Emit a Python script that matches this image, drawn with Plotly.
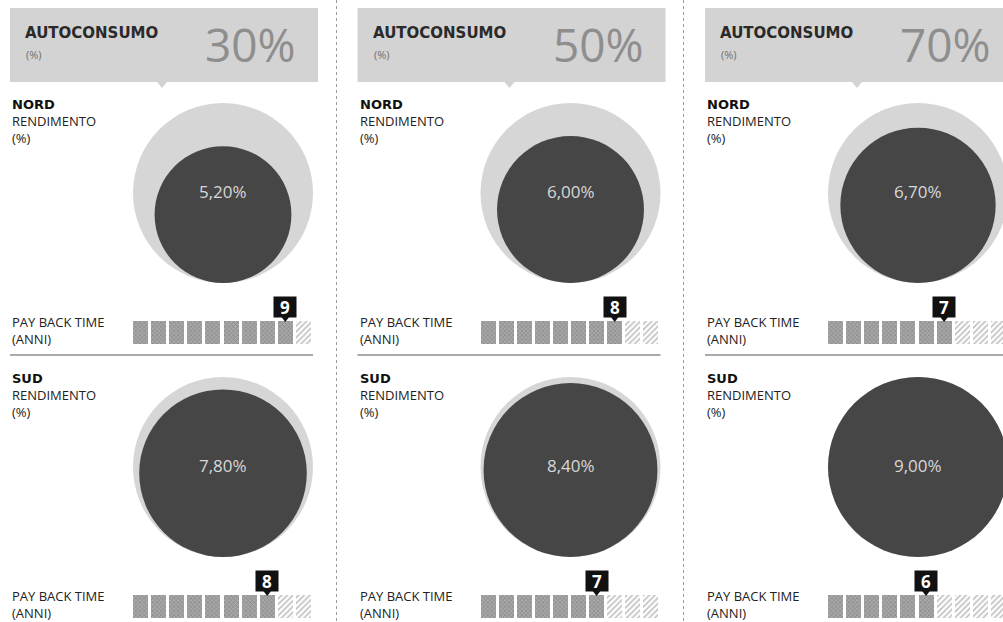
import plotly.graph_objects as go

# ---------------- data ----------------
autoconsumo = [30, 50, 70]                 # % autoconsumo per panel
nord_rendimento = [5.20, 6.00, 6.70]       # %
sud_rendimento = [7.80, 8.40, 9.00]        # %
nord_payback = [9, 8, 7]                   # anni
sud_payback = [8, 7, 6]                    # anni
max_rendimento = 9.00
max_payback = 10
regions = ["NORD", "SUD"]

# ---------------- layout constants ----------------
W, H = 1003, 622
PANEL_DX = 347.5
PANEL_X0 = 10
R_MAX = 90.0
CIRCLE_CX = 223
GROUP_DY = 274
CIRCLE_BOTTOM = 283
BAR_X0 = 133
BAR_PITCH = 18.1
BAR_W = 15
BAR_TOP = 321
BAR_H = 23

FONT = "Open Sans"
BOLD = "DejaVu Sans"
fig = go.Figure()
shapes = []
annotations = []


def fmt(v):
    return f"{v:.2f}".replace(".", ",") + "%"


def label(x, y, text, size=13, color="#222", family=FONT):
    annotations.append(dict(x=x, y=y, text=text, showarrow=False, xanchor="left",
                            yanchor="middle", align="left",
                            font=dict(family=family, size=size, color=color)))


for p in range(3):
    off = p * PANEL_DX
    # header box
    shapes.append(dict(type="rect", xref="x", yref="y", x0=PANEL_X0 + off, x1=PANEL_X0 + off + 308,
                       y0=8, y1=82, fillcolor="#d3d3d3", line=dict(width=0), layer="below"))
    shapes.append(dict(type="path", xref="x", yref="y",
                       path=f"M {157+off},82 L {167+off},82 L {162+off},88 Z",
                       fillcolor="#d3d3d3", line=dict(width=0), layer="below"))
    label(23 + off, 33, "<b>AUTOCONSUMO</b>", size=15, color="#2a2a2a", family=BOLD)
    label(24 + off, 54, "(%)", size=11, color="#707070")
    annotations.append(dict(x=298 + off, y=44, text=f"{autoconsumo[p]}%", showarrow=False,
                            xanchor="right", yanchor="middle",
                            font=dict(family=FONT, size=46, color="#8e8e8e")))

    for g, (rend, pay) in enumerate([(nord_rendimento[p], nord_payback[p]),
                                     (sud_rendimento[p], sud_payback[p])]):
        dy = g * GROUP_DY
        # labels
        label(PANEL_X0 + off, 122 + dy,
              f"<span style='font-family:{BOLD};color:#111'><b>{regions[g]}</b></span>"
              "<br>RENDIMENTO<br>(%)")
        label(PANEL_X0 + off, 330 + dy, "PAY BACK TIME<br>(ANNI)")

        # circles (area proportional, bottom aligned)
        cx = CIRCLE_CX + off
        bottom = CIRCLE_BOTTOM + dy
        r_val = R_MAX * (rend / max_rendimento) ** 0.5
        shapes.append(dict(type="circle", xref="x", yref="y", x0=cx - R_MAX, x1=cx + R_MAX,
                           y0=bottom - 2 * R_MAX, y1=bottom, fillcolor="#d6d6d6",
                           line=dict(width=0), layer="below"))
        shapes.append(dict(type="circle", xref="x", yref="y", x0=cx - r_val, x1=cx + r_val,
                           y0=bottom - 2 * r_val, y1=bottom, fillcolor="#464646",
                           line=dict(width=0), layer="below"))
        annotations.append(dict(x=cx, y=bottom - R_MAX - 2, text=fmt(rend), showarrow=False,
                                xanchor="center", yanchor="middle",
                                font=dict(family=FONT, size=17, color="#d8d8d8")))

        # payback squares
        top = BAR_TOP + dy
        xs = [BAR_X0 + off + i * BAR_PITCH + BAR_W / 2 for i in range(max_payback)]
        filled = xs[:pay]
        empty = xs[pay:]
        fig.add_trace(go.Bar(x=filled, y=[BAR_H] * len(filled), base=[top] * len(filled),
                             width=BAR_W, marker=dict(color="#8a8a8a", line=dict(width=0),
                                                      pattern=dict(shape="x", fgcolor="#666666",
                                                                   bgcolor="#a8a8a8", size=3,
                                                                   solidity=0.4)),
                             hoverinfo="skip", showlegend=False))
        fig.add_trace(go.Bar(x=empty, y=[BAR_H] * len(empty), base=[top] * len(empty),
                             width=BAR_W, marker=dict(color="white", line=dict(width=0),
                                                      pattern=dict(shape="/", fgcolor="#808080",
                                                                   bgcolor="white", size=4,
                                                                   solidity=0.4)),
                             hoverinfo="skip", showlegend=False))
        # callout
        xc = xs[pay - 1]
        fig.add_trace(go.Scatter(x=[xc], y=[top - 3], mode="markers",
                                 marker=dict(symbol="triangle-down", size=8, color="#111"),
                                 hoverinfo="skip", showlegend=False))
        annotations.append(dict(x=xc, y=top - 14, text=f"<b>{pay}</b>", showarrow=False,
                                xanchor="center", yanchor="middle", bgcolor="#111",
                                width=20, height=18, borderpad=1,
                                font=dict(family=FONT, size=17, color="white")))

    # separator between NORD and SUD
    shapes.append(dict(type="line", xref="x", yref="y", x0=PANEL_X0 + off, x1=PANEL_X0 + off + 303,
                       y0=355, y1=355, line=dict(color="#555", width=1)))

# vertical dotted dividers
for xv in [336.5, 683.5]:
    shapes.append(dict(type="line", xref="x", yref="y", x0=xv, x1=xv, y0=0, y1=H,
                       line=dict(color="#9a9a9a", width=1, dash="dot")))

fig.update_layout(
    width=W, height=H, margin=dict(l=0, r=0, t=0, b=0),
    paper_bgcolor="white", plot_bgcolor="white",
    xaxis=dict(range=[0, W], visible=False, fixedrange=True),
    yaxis=dict(range=[H, 0], visible=False, fixedrange=True),
    shapes=shapes, annotations=annotations, barmode="overlay", bargap=0,
    showlegend=False,
)
fig.write_html("out.html", config={"displayModeBar": False})
